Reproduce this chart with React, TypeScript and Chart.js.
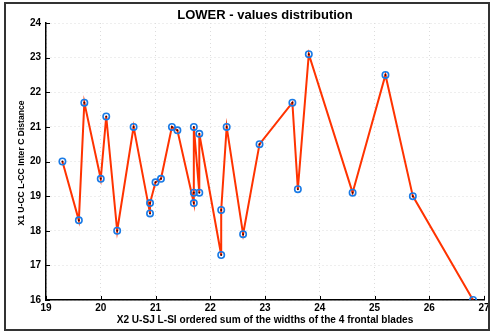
import React, { useEffect, useRef } from "react";
import { Chart, registerables } from "chart.js";

Chart.register(...registerables);

const TITLE = "LOWER - values distribution";
const X_LABEL = "X2 U-SJ L-SI ordered sum of the widths of the 4 frontal blades";
const Y_LABEL = "X1 U-CC L-CC Inter C Distance";

const xValues = [
  19.3, 19.6, 19.7, 20.0, 20.1, 20.3, 20.6, 20.9, 20.9, 21.0, 21.1, 21.3, 21.4,
  21.7, 21.7, 21.7, 21.8, 21.8, 22.2, 22.2, 22.3, 22.6, 22.9, 23.5, 23.6, 23.8,
  24.6, 25.2, 25.7, 26.8,
];
const yValues = [
  20.0, 18.3, 21.7, 19.5, 21.3, 18.0, 21.0, 18.5, 18.8, 19.4, 19.5, 21.0, 20.9,
  18.8, 19.1, 21.0, 19.1, 20.8, 17.3, 18.6, 21.0, 17.9, 20.5, 21.7, 19.2, 23.1,
  19.1, 22.5, 19.0, 16.0,
];

const X_MIN = 19;
const X_MAX = 27;
const Y_MIN = 16;
const Y_MAX = 24;

const FONT = "'Liberation Sans', Arial, sans-serif";

const decorPlugin = {
  id: "decor",
  afterDraw(chart: any) {
    const ctx = chart.ctx;
    const area = chart.chartArea;
    const xs = chart.scales.x;
    const ys = chart.scales.y;
    ctx.save();
    // inward ticks
    ctx.strokeStyle = "#000";
    ctx.lineWidth = 1;
    xs.ticks.forEach((t: any) => {
      const px = Math.round(xs.getPixelForValue(t.value)) + 0.5;
      ctx.beginPath();
      ctx.moveTo(px, area.bottom);
      ctx.lineTo(px, area.bottom - 4);
      ctx.stroke();
    });
    ys.ticks.forEach((t: any) => {
      const py = Math.round(ys.getPixelForValue(t.value)) + 0.5;
      ctx.beginPath();
      ctx.moveTo(area.left, py);
      ctx.lineTo(area.left + 4, py);
      ctx.stroke();
    });
    // title
    ctx.fillStyle = "#000";
    ctx.textAlign = "center";
    ctx.textBaseline = "middle";
    ctx.font = `bold 13px ${FONT}`;
    ctx.fillText(TITLE, (area.left + area.right) / 2, 15);
    // x label
    ctx.font = `bold 10.1px ${FONT}`;
    ctx.fillText(X_LABEL, 265, 320);
    // y label
    ctx.save();
    ctx.translate(22, 163);
    ctx.rotate(-Math.PI / 2);
    ctx.font = `bold 8.6px ${FONT}`;
    ctx.fillText(Y_LABEL, 0, 0);
    ctx.restore();
    ctx.restore();
  },
};

export default function App() {
  const ref = useRef<HTMLCanvasElement | null>(null);

  useEffect(() => {
    if (!ref.current) return;
    const pts = xValues.map((x, i) => ({ x, y: yValues[i] }));
    const chart = new Chart(ref.current, {
      type: "scatter",
      data: {
        datasets: [
          {
            data: pts,
            showLine: true,
            borderColor: "#ff3300",
            borderWidth: 2,
            pointRadius: 3.2,
            pointBorderWidth: 1.6,
            pointBorderColor: "#1a7be6",
            pointBackgroundColor: "rgba(0,0,0,0)",
            order: 2,
          },
          {
            data: pts,
            showLine: false,
            pointRadius: 1,
            pointBorderWidth: 0,
            pointBackgroundColor: "#400",
            order: 1,
          },
        ],
      },
      options: {
        animation: false,
        responsive: false,
        maintainAspectRatio: false,
        layout: { padding: { top: 23, right: 9, left: 0, bottom: 0 } },
        plugins: {
          legend: { display: false },
          tooltip: { enabled: false },
          title: { display: false },
        },
        scales: {
          x: {
            type: "linear",
            min: X_MIN,
            max: X_MAX,
            ticks: {
              stepSize: 1,
              color: "#000",
              font: { family: FONT, size: 10, weight: "bold" },
              padding: 2,
            },
            grid: { color: "#dcdcdc", drawTicks: false, lineWidth: 1 },
            border: { color: "#000", width: 1.5, dash: [1, 3] },
            afterFit(scale: any) {
              scale.height = 32;
            },
          },
          y: {
            type: "linear",
            min: Y_MIN,
            max: Y_MAX,
            ticks: {
              stepSize: 1,
              color: "#000",
              font: { family: FONT, size: 10, weight: "bold" },
              padding: 5,
            },
            grid: { color: "#dcdcdc", drawTicks: false, lineWidth: 1 },
            border: { color: "#000", width: 1.5, dash: [1, 3] },
            afterFit(scale: any) {
              scale.width = 46;
            },
          },
        },
      },
      plugins: [decorPlugin],
    });
    return () => chart.destroy();
  }, []);

  return (
    <div style={{ position: "fixed", left: 0, top: 0, width: 493, height: 332, background: "#fff" }}>
      <canvas ref={ref} width={493} height={332} style={{ position: "absolute", left: 0, top: 0, width: 493, height: 332 }} />
      <div
        style={{
          position: "absolute",
          left: 4,
          top: 2,
          width: 482,
          height: 325,
          border: "2px solid #333",
          pointerEvents: "none",
        }}
      />
    </div>
  );
}
